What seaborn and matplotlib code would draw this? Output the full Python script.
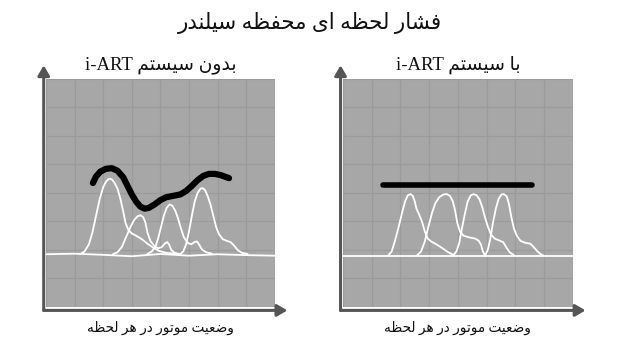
import re
import numpy as np
import pandas as pd
import matplotlib
matplotlib.use('Agg')
import matplotlib.pyplot as plt
import seaborn as sns

# --- texts (logical order, Persian) ---
title = 'فشار لحظه ای محفظه سیلندر'
left_title = 'بدون سیستم i-ART'
right_title = 'با سیستم i-ART'
xlabel = 'وضعیت موتور در هر لحظه'

# --- data: pressure peaks (x 0..8, y 0..8) ---
left_peak1_x = [1.19, 1.35, 1.5, 1.62, 1.75, 1.88, 2.0, 2.1, 2.2, 2.3, 2.4, 2.5, 2.6, 2.7, 2.78,
                2.88, 3.0, 3.15, 3.35, 3.55, 3.75, 3.95, 4.2, 4.6]
left_peak1_y = [1.85, 1.95, 2.2, 2.6, 3.2, 3.8, 4.2, 4.4, 4.5, 4.48, 4.35, 4.15, 3.8, 3.35, 2.95,
                2.7, 2.58, 2.5, 2.38, 2.22, 2.08, 1.97, 1.9, 1.86]
left_peak2_x = [2.34, 2.5, 2.65, 2.8, 2.95, 3.08, 3.2, 3.3, 3.4, 3.48, 3.55, 3.65, 3.78, 3.92,
                4.05, 4.15, 4.23, 4.3, 4.38, 4.5, 4.65]
left_peak2_y = [1.85, 1.92, 2.1, 2.45, 2.8, 3.05, 3.18, 3.22, 3.15, 2.95, 2.6, 2.32, 2.15, 2.06,
                2.1, 2.22, 2.28, 2.2, 2.0, 1.9, 1.86]
left_peak3_x = [3.53, 3.7, 3.82, 3.92, 4.02, 4.12, 4.22, 4.32, 4.42, 4.52, 4.62, 4.72, 4.82, 4.95,
                5.08, 5.2, 5.28, 5.36, 5.45, 5.6, 5.8]
left_peak3_y = [1.85, 1.95, 2.1, 2.4, 2.8, 3.2, 3.48, 3.6, 3.55, 3.38, 3.1, 2.75, 2.45, 2.25,
                2.2, 2.28, 2.3, 2.18, 2.02, 1.92, 1.87]
left_peak4_x = [4.69, 4.8, 4.9, 5.0, 5.1, 5.2, 5.3, 5.4, 5.48, 5.56, 5.65, 5.75, 5.85, 5.95,
                6.05, 6.18, 6.32, 6.45, 6.58, 6.7, 6.85, 7.05]
left_peak4_y = [1.85, 1.95, 2.2, 2.65, 3.2, 3.7, 4.0, 4.15, 4.17, 4.1, 3.9, 3.6, 3.2, 2.8,
                2.55, 2.38, 2.32, 2.28, 2.15, 2.0, 1.9, 1.86]
left_base_x = [0, 1, 2, 3, 4, 5, 6, 7, 8]
left_base_y = [1.85, 1.87, 1.83, 1.78, 1.86, 1.8, 1.85, 1.82, 1.8]
left_torque_x = [1.64, 1.75, 1.9, 2.1, 2.3, 2.5, 2.7, 2.85, 3.0, 3.15, 3.3, 3.45, 3.6, 3.8, 4.0,
                 4.2, 4.45, 4.7, 4.9, 5.1, 5.3, 5.5, 5.7, 5.9, 6.1, 6.4]
left_torque_y = [4.35, 4.58, 4.75, 4.85, 4.87, 4.78, 4.55, 4.25, 3.95, 3.7, 3.52, 3.45, 3.48, 3.6,
                 3.75, 3.85, 3.9, 3.95, 4.07, 4.25, 4.45, 4.6, 4.67, 4.67, 4.63, 4.52]

right_peak1_x = [1.57, 1.7, 1.82, 1.95, 2.07, 2.17, 2.26, 2.35, 2.43, 2.5, 2.56, 2.65, 2.75, 2.85,
                 2.95, 3.07, 3.25, 3.45, 3.65, 3.85]
right_peak1_y = [1.8, 1.95, 2.35, 2.85, 3.35, 3.72, 3.92, 3.96, 3.9, 3.7, 3.45, 3.25, 3.0, 2.65,
                 2.4, 2.3, 2.2, 2.07, 1.93, 1.82]
right_peak2_x = [2.57, 2.72, 2.85, 2.97, 3.1, 3.22, 3.35, 3.5, 3.62, 3.72, 3.82, 3.9, 3.98, 4.07,
                 4.2, 4.4, 4.6, 4.72, 4.8, 4.87, 4.94]
right_peak2_y = [1.8, 1.95, 2.3, 2.8, 3.3, 3.65, 3.85, 3.95, 3.96, 3.9, 3.72, 3.4, 2.95, 2.65,
                 2.5, 2.44, 2.4, 2.33, 2.2, 1.95, 1.82]
right_peak3_x = [3.83, 3.95, 4.05, 4.14, 4.24, 4.34, 4.45, 4.55, 4.65, 4.75, 4.85, 4.95, 5.05,
                 5.15, 5.28, 5.45, 5.58, 5.68, 5.8, 5.95]
right_peak3_y = [1.8, 1.95, 2.25, 2.75, 3.25, 3.7, 3.92, 3.96, 3.92, 3.78, 3.5, 3.12, 2.8,
                 2.55, 2.4, 2.33, 2.27, 2.1, 1.92, 1.82]
right_peak4_x = [4.94, 5.04, 5.13, 5.22, 5.32, 5.42, 5.52, 5.6, 5.7, 5.78, 5.86, 5.95, 6.05,
                 6.18, 6.35, 6.52, 6.62, 6.75, 6.88, 6.98]
right_peak4_y = [1.8, 2.0, 2.4, 2.95, 3.45, 3.8, 3.95, 3.96, 3.88, 3.6, 3.15, 2.75, 2.5,
                 2.32, 2.25, 2.22, 2.12, 1.97, 1.85, 1.8]
right_base_x = [0, 8]
right_base_y = [1.8, 1.8]
right_torque_x = [1.39, 6.57]
right_torque_y = [4.28, 4.28]

# --- minimal Persian shaping (presentation forms + RTL order) ---
FORMS = {  # iso, fin, ini, med
    'ا': ('\uFE8D', '\uFE8E', None, None),
    'ب': ('\uFE8F', '\uFE90', '\uFE91', '\uFE92'),
    'ت': ('\uFE95', '\uFE96', '\uFE97', '\uFE98'),
    'ح': ('\uFEA1', '\uFEA2', '\uFEA3', '\uFEA4'),
    'د': ('\uFEA9', '\uFEAA', None, None),
    'ر': ('\uFEAD', '\uFEAE', None, None),
    'س': ('\uFEB1', '\uFEB2', '\uFEB3', '\uFEB4'),
    'ش': ('\uFEB5', '\uFEB6', '\uFEB7', '\uFEB8'),
    'ض': ('\uFEBD', '\uFEBE', '\uFEBF', '\uFEC0'),
    'ظ': ('\uFEC5', '\uFEC6', '\uFEC7', '\uFEC8'),
    'ع': ('\uFEC9', '\uFECA', '\uFECB', '\uFECC'),
    'ف': ('\uFED1', '\uFED2', '\uFED3', '\uFED4'),
    'ل': ('\uFEDD', '\uFEDE', '\uFEDF', '\uFEE0'),
    'م': ('\uFEE1', '\uFEE2', '\uFEE3', '\uFEE4'),
    'ن': ('\uFEE5', '\uFEE6', '\uFEE7', '\uFEE8'),
    'ه': ('\uFEE9', '\uFEEA', '\uFEEB', '\uFEEC'),
    'و': ('\uFEED', '\uFEEE', None, None),
    'ی': ('\uFBFC', '\uFBFD', '\uFBFE', '\uFBFF'),
}


def fa(text):
    out = []
    for i, ch in enumerate(text):
        if ch not in FORMS:
            out.append(ch)
            continue
        prev = text[i - 1] if i > 0 else ''
        nxt = text[i + 1] if i + 1 < len(text) else ''
        jp = prev in FORMS and FORMS[prev][2] is not None
        jn = FORMS[ch][2] is not None and nxt in FORMS
        f = FORMS[ch]
        out.append(f[3] if jp and jn else f[1] if jp else f[2] if jn else f[0])
    rev = ''.join(out)[::-1]
    return re.sub(r'[A-Za-z\-]+', lambda m: m.group(0)[::-1], rev)


def frame(name, xs, ys):
    return pd.DataFrame({'x': xs, 'y': ys, 'curve': name})


left_df = pd.concat([
    frame('base', left_base_x, left_base_y),
    frame('p1', left_peak1_x, left_peak1_y),
    frame('p2', left_peak2_x, left_peak2_y),
    frame('p3', left_peak3_x, left_peak3_y),
    frame('p4', left_peak4_x, left_peak4_y),
])
right_df = pd.concat([
    frame('base', right_base_x, right_base_y),
    frame('p1', right_peak1_x, right_peak1_y),
    frame('p2', right_peak2_x, right_peak2_y),
    frame('p3', right_peak3_x, right_peak3_y),
    frame('p4', right_peak4_x, right_peak4_y),
])

sns.set_style('white')
plt.rcParams['font.family'] = ['DejaVu Sans']
fa_font = ['Liberation Serif', 'DejaVu Sans']

fig = plt.figure(figsize=(6.2, 3.51), dpi=100)
ax_l = fig.add_axes([0.0742, 0.1254, 0.369, 0.6496])
ax_r = fig.add_axes([0.553, 0.1254, 0.371, 0.6496])

panels = [
    (ax_l, left_df, left_torque_x, left_torque_y, 4.5, left_title),
    (ax_r, right_df, right_torque_x, right_torque_y, 4.0, right_title),
]
for ax, df, tx, ty, tlw, ttl in panels:
    ax.set_facecolor('#a7a7a7')
    sns.lineplot(data=df, x='x', y='y', units='curve', estimator=None, sort=False,
                 color='white', lw=1.3, ax=ax, solid_joinstyle='round')
    sns.lineplot(x=tx, y=ty, sort=False, color='black', lw=tlw, ax=ax,
                 solid_capstyle='round', solid_joinstyle='round')
    ax.set_xlim(0, 8)
    ax.set_ylim(0, 8)
    ax.set_xticks(range(9))
    ax.set_yticks(range(9))
    ax.grid(True, color='#9b9b9b', lw=0.9)
    ax.set_axisbelow(True)
    ax.tick_params(length=0, labelbottom=False, labelleft=False)
    ax.set_xlabel('')
    ax.set_ylabel('')
    for s in ax.spines.values():
        s.set_visible(False)
    # axis arrows
    arrow = dict(arrowstyle='-|>,head_width=0.35,head_length=0.6', color='#555555', lw=2.2,
                 shrinkA=0, shrinkB=0)
    ax.annotate('', xy=(-0.01, 1.06), xytext=(-0.01, -0.015), xycoords='axes fraction',
                arrowprops=arrow, annotation_clip=False)
    ax.annotate('', xy=(1.055, -0.015), xytext=(-0.01, -0.015), xycoords='axes fraction',
                arrowprops=arrow, annotation_clip=False)
    ax.text(0.5, 1.06, fa(ttl), transform=ax.transAxes, ha='center', va='center',
            fontsize=13.5, family=fa_font, color='#111111')
    ax.text(0.5, -0.09, fa(xlabel), transform=ax.transAxes, ha='center', va='center',
            fontsize=9.8, family=fa_font, color='#111111')

fig.text(0.5, 0.935, fa(title), ha='center', va='center', fontsize=15.5,
         family=fa_font, color='#111111')

fig.savefig('out.png', dpi=100, facecolor='white')
